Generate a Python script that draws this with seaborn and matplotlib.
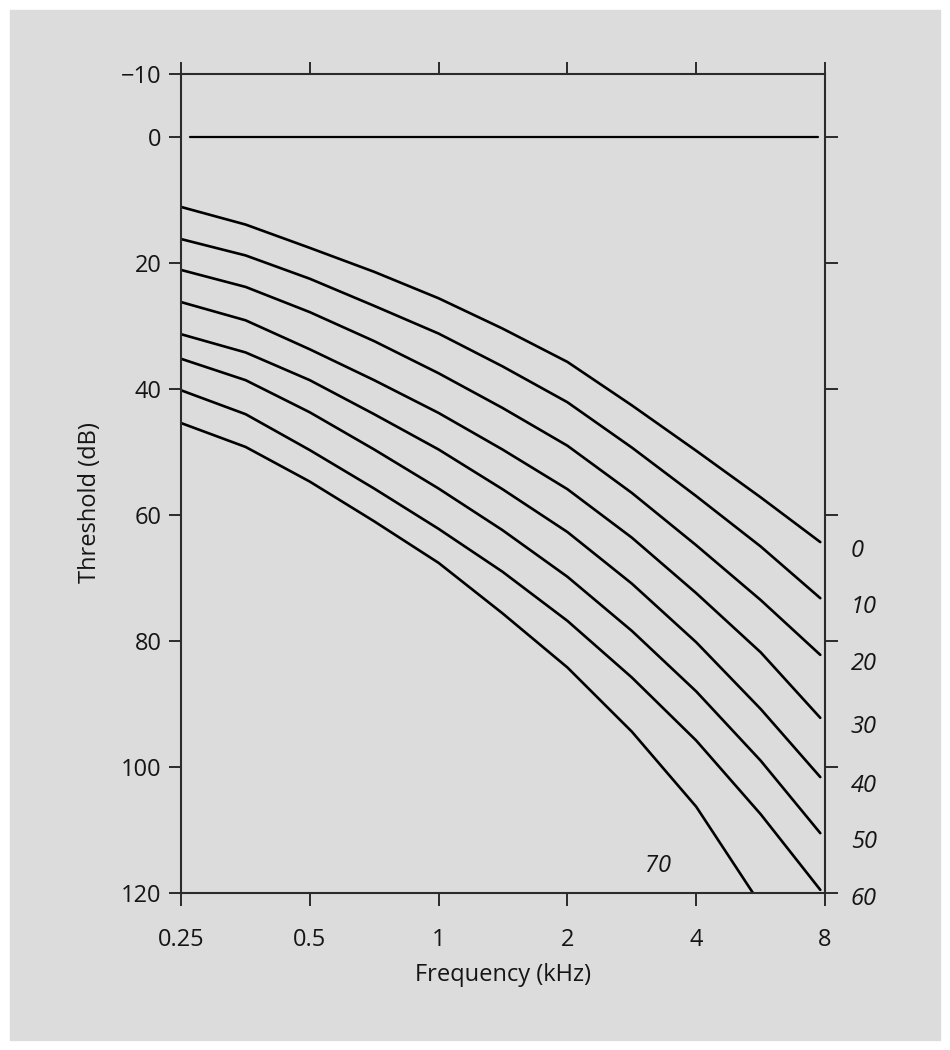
import numpy as np
import pandas as pd
import seaborn as sns
import matplotlib.pyplot as plt
from matplotlib.patches import Rectangle
from matplotlib.ticker import NullLocator, FixedLocator, FixedFormatter

# threshold curves (dB), one per exposure level
freq = [0.25, 0.354, 0.5, 0.707, 1, 1.41, 2, 2.83, 4, 5.66, 7.8]
freq_70 = [0.25, 0.354, 0.5, 0.707, 1, 1.41, 2, 2.83, 4, 5.43]
curve_0 = [11.1, 13.9, 17.6, 21.4, 25.6, 30.4, 35.7, 42.6, 49.8, 57.2, 64.3]
curve_10 = [16.2, 18.8, 22.5, 26.8, 31.2, 36.4, 42.1, 49.3, 57.0, 65.0, 73.2]
curve_20 = [21.1, 23.8, 27.8, 32.4, 37.5, 43.0, 49.0, 56.5, 64.8, 73.5, 82.2]
curve_30 = [26.2, 29.1, 33.7, 38.6, 43.8, 49.6, 55.9, 63.6, 72.4, 81.8, 92.2]
curve_40 = [31.3, 34.2, 38.6, 44.0, 49.6, 55.9, 62.7, 70.9, 80.2, 90.8, 101.6]
curve_50 = [35.2, 38.6, 43.7, 49.6, 55.8, 62.4, 69.8, 78.4, 88.0, 99.0, 110.5]
curve_60 = [40.2, 44.0, 49.7, 55.8, 62.2, 69.0, 76.8, 85.8, 95.8, 107.5, 119.5]
curve_70 = [45.4, 49.2, 54.7, 61.0, 67.6, 75.6, 84.2, 94.4, 106.3, 120.0]
curve_names = ['0', '10', '20', '30', '40', '50', '60', '70']

ref_freq = [0.262, 7.7]
ref_level = [0, 0]

x_ticks = [0.25, 0.5, 1, 2, 4, 8]
x_labels = ['0.25', '0.5', '1', '2', '4', '8']
y_ticks = [-10, 0, 20, 40, 60, 80, 100, 120]
y_labels = ['\u221210', '0', '20', '40', '60', '80', '100', '120']
y_ticks_right = [0, 20, 40, 60, 80, 100, 120]

rows = []
all_curves = [curve_0, curve_10, curve_20, curve_30, curve_40, curve_50, curve_60, curve_70]
for name, vals in zip(curve_names, all_curves):
    xs = freq_70 if name == '70' else freq
    for f, v in zip(xs, vals):
        rows.append({'freq': f, 'level': v, 'curve': name})
df = pd.DataFrame(rows)

bg = '#dcdcdc'
ink = '#2b2b2b'
txt = '#151515'
fs = 17
sns.set_style('white')
plt.rcParams['font.family'] = ['Open Sans', 'DejaVu Sans']

fig = plt.figure(figsize=(9.5, 10.5), dpi=100, facecolor='white')
fig.patches.append(Rectangle((10 / 950, 10 / 1050), 930 / 950, 1030 / 1050,
                             transform=fig.transFigure, color=bg, zorder=-10))
ax = fig.add_axes([181 / 950, 1 - 893 / 1050, 644 / 950, 819 / 1050])
ax.set_facecolor(bg)

sns.lineplot(data=df, x='freq', y='level', hue='curve', units='curve', estimator=None,
             palette=['black'] * len(curve_names), legend=False, lw=1.9, ax=ax)
sns.lineplot(x=ref_freq, y=ref_level, color='black', lw=1.6, ax=ax)

ax.set_xscale('log', base=2)
ax.set_xlim(0.25, 8)
ax.set_ylim(120, -10)
ax.xaxis.set_major_locator(FixedLocator(x_ticks))
ax.xaxis.set_major_formatter(FixedFormatter(x_labels))
ax.xaxis.set_minor_locator(NullLocator())
ax.yaxis.set_major_locator(FixedLocator(y_ticks))
ax.yaxis.set_major_formatter(FixedFormatter(y_labels))

for s in ax.spines.values():
    s.set_color(ink)
    s.set_linewidth(1.5)

ax.tick_params(axis='x', which='major', top=True, bottom=True, direction='out',
               length=9, width=1.4, color=ink, labelsize=fs, pad=16, labelcolor=txt)
ax.tick_params(axis='y', which='major', left=True, right=False, direction='out',
               length=9, width=1.4, color=ink, labelsize=fs, pad=5, labelcolor=txt)

ax2 = ax.twinx()
ax2.set_ylim(120, -10)
ax2.yaxis.set_major_locator(FixedLocator(y_ticks_right))
ax2.set_yticklabels([])
ax2.tick_params(axis='y', direction='out', length=9, width=1.4, color=ink)
for s in ax2.spines.values():
    s.set_visible(False)

ax.set_xlabel('Frequency (kHz)', fontsize=fs, color=txt, labelpad=8)
ax.set_ylabel('Threshold (dB)', fontsize=fs, color=txt)
ax.yaxis.set_label_coords(-0.122, 0.477)

# curve labels, italic, just right of the axes
for name, vals in zip(curve_names[:-1], all_curves[:-1]):
    ax.text(1.04, vals[-1] + 1.4, name, transform=ax.get_yaxis_transform(),
            fontsize=fs, style='italic', va='center', ha='left', color=txt,
            clip_on=False)
ax.text(3.26, 115.7, curve_names[-1], fontsize=fs, style='italic',
        va='center', ha='center', color=txt)

fig.savefig('out.png', dpi=100, facecolor='white')
